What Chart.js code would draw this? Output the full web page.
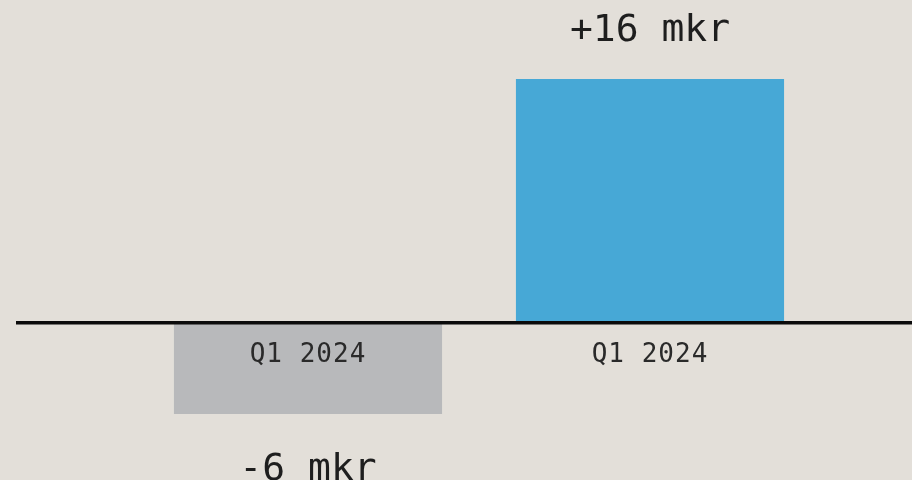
<!DOCTYPE html>
<html>
<head>
<meta charset="utf-8">
<script src="https://cdn.jsdelivr.net/npm/chart.js@4"></script>
<style>
  html, body { margin: 0; padding: 0; background: #E3DFD9; }
  #wrap { width: 912px; height: 480px; }
</style>
</head>
<body>
<div id="wrap"><canvas id="chart"></canvas></div>
<script>
// Chart data
const LABELS = ["Q1 2024", "Q1 2024"];
const VALUES = [-6, 16];
const VALUE_TEXT = ["-6 mkr", "+16 mkr"];
const BAR_COLORS = ["#B8B9BB", "#47A8D6"];

const MONO = "'DejaVu Sans Mono', monospace";

// Zero line + labels drawn on top of the bars
const annotate = {
  id: "annotate",
  afterDatasetsDraw(chart) {
    const { ctx } = chart;
    const y = chart.scales.y;
    const zero = y.getPixelForValue(0);

    ctx.save();
    ctx.strokeStyle = "#0b0b0b";
    ctx.lineWidth = 3.5;
    ctx.beginPath();
    ctx.moveTo(16, zero);
    ctx.lineTo(chart.width, zero);
    ctx.stroke();

    const meta = chart.getDatasetMeta(0);
    ctx.textAlign = "center";
    ctx.textBaseline = "alphabetic";
    meta.data.forEach((bar, i) => {
      // category label just under the zero line
      ctx.fillStyle = "#2a2a2a";
      ctx.font = "26px " + MONO;
      ctx.letterSpacing = "1px";
      ctx.fillText(LABELS[i], bar.x, zero + 39);

      // value label outside the bar end
      ctx.fillStyle = "#1e1e1e";
      ctx.font = "38px " + MONO;
      ctx.letterSpacing = "0px";
      const end = y.getPixelForValue(VALUES[i]);
      const ty = VALUES[i] >= 0 ? end - 38 : end + 66;
      ctx.fillText(VALUE_TEXT[i], bar.x, ty);
    });
    ctx.restore();
  },
};

new Chart(document.getElementById("chart"), {
  type: "bar",
  data: {
    labels: LABELS,
    datasets: [
      {
        data: VALUES,
        backgroundColor: BAR_COLORS,
        borderWidth: 0,
        barPercentage: 0.784,
        categoryPercentage: 1,
      },
    ],
  },
  options: {
    responsive: true,
    maintainAspectRatio: false,
    animation: false,
    layout: {
      padding: { top: 79, bottom: 66, left: 137, right: 91 },
    },
    plugins: {
      legend: { display: false },
      tooltip: { enabled: false },
    },
    scales: {
      x: { display: false },
      y: { display: false, min: -6, max: 16 },
    },
  },
  plugins: [annotate],
});
</script>
</body>
</html>
